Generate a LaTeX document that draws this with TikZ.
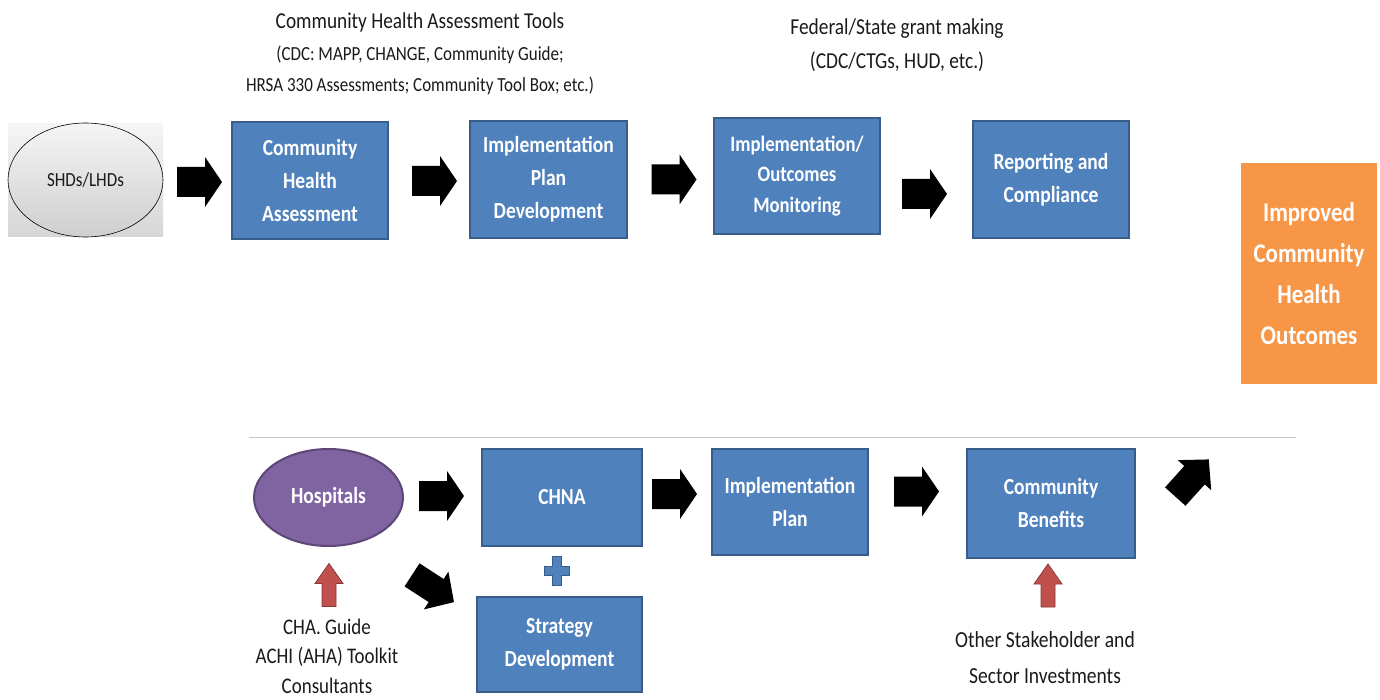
\documentclass[tikz,border=0pt]{standalone}
\usepackage{fontspec}
\setmainfont{Carlito}[FakeStretch=0.85]
\usetikzlibrary{shapes.geometric}
\definecolor{boxblue}{HTML}{4F81BD}
\definecolor{boxedge}{HTML}{385D8A}
\definecolor{orng}{HTML}{F79646}
\definecolor{purp}{HTML}{8064A2}
\definecolor{purpedge}{HTML}{5C4776}
\definecolor{redfill}{HTML}{C0504D}
\definecolor{rededge}{HTML}{8C3836}
\definecolor{txt}{HTML}{1A1A1A}
\begin{document}
\begin{tikzpicture}[x=1pt,y=-1pt,
  bluebox/.style={draw=boxedge, line width=2.5pt, fill=boxblue, text=white,
    font=\bfseries\fontsize{23}{33}\selectfont, align=center, inner sep=0pt},
  orangebox/.style={draw=none, fill=orng, text=white,
    font=\bfseries\fontsize{27}{41}\selectfont, align=center, inner sep=0pt},
  plaintext/.style={text=txt, align=center, inner sep=0pt},
  blockarrow/.pic={\fill[black] (-22.5,-15) -- (5.5,-15) -- (5.5,-25) -- (22.5,0)
      -- (5.5,25) -- (5.5,15) -- (-22.5,15) -- cycle;},
  smallarrow/.pic={\fill[black] (-20,-11) -- (3,-11) -- (3,-18) -- (20,0)
      -- (3,18) -- (3,11) -- (-20,11) -- cycle;},
  redarrow/.pic={\filldraw[fill=redfill, draw=rededge, line width=0.8pt]
      (-7,21.5) -- (-7,-1.5) -- (-14,-1.5) -- (0,-21.5) -- (14,-1.5) -- (7,-1.5)
      -- (7,21.5) -- cycle;}
]
\useasboundingbox (0,0) rectangle (1380,700);

% titles
\node[plaintext, font=\fontsize{22.7}{30}\selectfont] (chatitle) at (420,22) {Community Health Assessment Tools};
\node[plaintext, font=\fontsize{20}{31}\selectfont] (chasub) at (420,70)
  {(CDC: MAPP, CHANGE, Community Guide;\\HRSA 330 Assessments; Community Tool Box; etc.)};
\node[plaintext, font=\fontsize{22.8}{34}\selectfont] (fedtitle) at (897,45)
  {Federal/State grant making\\(CDC/CTGs, HUD, etc.)};

% top row
\node[draw=none, top color=gray!8, bottom color=gray!32, minimum width=155pt,
  minimum height=113pt, inner sep=0pt] (shdbg) at (85.5,180.5) {};
\node[ellipse, draw=black, line width=0.6pt, top color=gray!8, bottom color=gray!38,
  minimum width=155pt, minimum height=114pt, inner sep=0pt,
  text=txt, font=\fontsize{20}{24}\selectfont] (shd) at (85.5,180) {SHDs/LHDs};

\node[bluebox, minimum width=156pt, minimum height=117pt] (cha) at (310,180.5)
  {Community\\Health\\Assessment};
\node[bluebox, minimum width=157pt, minimum height=117pt] (ipd) at (548.5,179.5)
  {Implementation\\Plan\\Development};
\node[bluebox, minimum width=166pt, minimum height=116pt, font=\bfseries\fontsize{22}{30.5}\selectfont] (iom) at (797,176)
  {Implementation/\\Outcomes\\Monitoring};
\node[bluebox, minimum width=156pt, minimum height=117pt] (rc) at (1051,179.5)
  {Reporting and\\Compliance};
\node[orangebox, minimum width=136pt, minimum height=221pt] (ico) at (1309,273.5)
  {Improved\\Community\\Health\\Outcomes};

\pic at (199.5,182) {blockarrow};
\pic at (434.5,181) {blockarrow};
\pic at (674,179.5) {blockarrow};
\pic at (924.5,194) {blockarrow};

% divider
\coordinate (divl) at (249,437);
\coordinate (divr) at (1296,437);
\draw[gray!45, line width=1pt] (divl) -- (divr);

% bottom row
\node[ellipse, draw=purpedge, line width=2pt, fill=purp, text=white,
  minimum width=149pt, minimum height=97pt, inner sep=0pt,
  font=\bfseries\fontsize{23}{28}\selectfont] (hosp) at (328.5,497.5) {Hospitals};
\node[bluebox, minimum width=160pt, minimum height=97pt] (chna) at (562,497.5) {CHNA};
\node[bluebox, minimum width=156pt, minimum height=106pt] (ip) at (790,502)
  {Implementation\\Plan};
\node[bluebox, minimum width=168pt, minimum height=109pt] (cb) at (1051,503.5)
  {Community\\Benefits};
\node[bluebox, minimum width=165pt, minimum height=95pt] (sd) at (559.5,644.5)
  {Strategy\\Development};

\pic at (441.5,496) {blockarrow};
\pic at (674.5,494) {blockarrow};
\pic at (916.5,491.5) {blockarrow};
\pic[rotate=48, scale=1.25] at (1192,478) {smallarrow};
\pic[rotate=-33, scale=1.25] at (433,588.5) {smallarrow};

% plus sign
\filldraw[fill=boxblue, draw=boxedge, line width=1pt]
  (552.5,556) -- (561.5,556) -- (561.5,566) -- (569.5,566) -- (569.5,575)
  -- (561.5,575) -- (561.5,585) -- (552.5,585) -- (552.5,575) -- (544.5,575)
  -- (544.5,566) -- (552.5,566) -- cycle;

% red arrows
\pic at (329,585) {redarrow};
\pic at (1048,585.5) {redarrow};

\node[plaintext, font=\fontsize{22.3}{29.5}\selectfont] (hosptools) at (327,656)
  {CHA. Guide\\ACHI (AHA) Toolkit\\Consultants};
\node[plaintext, font=\fontsize{23}{36}\selectfont] (stake) at (1045,658)
  {Other Stakeholder and\\Sector Investments};
\end{tikzpicture}
\end{document}
